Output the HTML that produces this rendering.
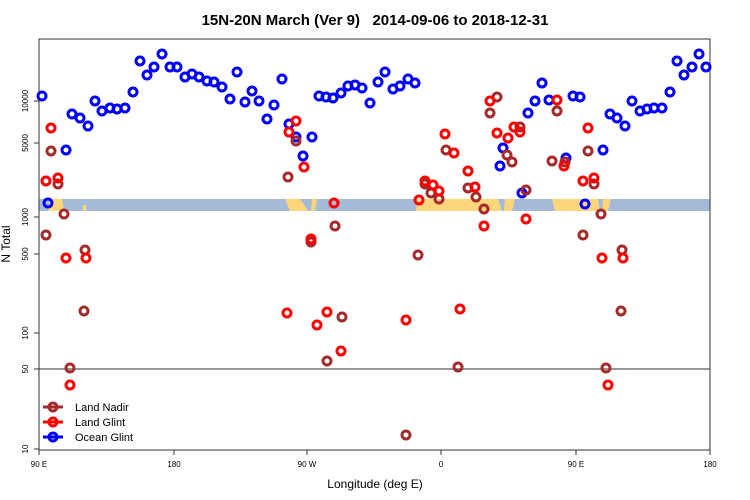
<!DOCTYPE html>
<html><head><style>body{margin:0;background:#fff}svg{display:block}</style></head><body>
<svg width="750" height="500" xmlns="http://www.w3.org/2000/svg" font-family="Liberation Sans, sans-serif">
<text x="375" y="25" text-anchor="middle" font-size="15" font-weight="bold">15N-20N March (Ver 9)&#160;&#160; 2014-09-06 to 2018-12-31</text>
<rect x="39" y="199" width="671" height="12" fill="#a3bbd9"/>
<g fill="#fdd57a">
<path d="M50,199 L62,199 L64,211 L48,211 Z"/><path d="M83,205 l3,0 l0,6 l-3,0z"/>
<path d="M285,199 L300,199 L308,211 L290,211 Z"/><path d="M312,199 l5,0 l-2,12 l-4,0z"/>
<path d="M417,199 L498,199 L502,211 L416,211 Z"/><path d="M505,199 l10,0 l-3,12 l-8,0z"/>
<path d="M552,199 L598,199 L600,211 L555,211 Z"/><path d="M603,199 l8,0 l-3,12 l-6,0z"/>
</g>
<line x1="39" y1="369" x2="710" y2="369" stroke="#777" stroke-width="1.5"/>
<rect x="39" y="39" width="671" height="411" fill="none" stroke="#333" stroke-width="1"/>
<g font-size="8" text-anchor="middle">
<text x="39" y="467">90 E</text><text x="174" y="467">180</text><text x="307" y="467">90 W</text><text x="441" y="467">0</text><text x="576" y="467">90 E</text><text x="710" y="467">180</text>
</g>
<g stroke="#333"><line x1="39" y1="450" x2="39" y2="455"/><line x1="174" y1="450" x2="174" y2="455"/><line x1="307" y1="450" x2="307" y2="455"/><line x1="441" y1="450" x2="441" y2="455"/><line x1="576" y1="450" x2="576" y2="455"/><line x1="710" y1="450" x2="710" y2="455"/>
<line x1="34" y1="101" x2="39" y2="101"/><line x1="34" y1="143" x2="39" y2="143"/><line x1="34" y1="217" x2="39" y2="217"/><line x1="34" y1="254" x2="39" y2="254"/><line x1="34" y1="333" x2="39" y2="333"/><line x1="34" y1="369" x2="39" y2="369"/><line x1="34" y1="449" x2="39" y2="449"/></g>
<g font-size="8" text-anchor="middle">
<text transform="translate(28,101) rotate(-90)">10000</text><text transform="translate(28,143) rotate(-90)">5000</text><text transform="translate(28,217) rotate(-90)">1000</text><text transform="translate(28,254) rotate(-90)">500</text><text transform="translate(28,333) rotate(-90)">100</text><text transform="translate(28,369) rotate(-90)">50</text><text transform="translate(28,449) rotate(-90)">10</text>
</g>
<text x="375" y="488" text-anchor="middle" font-size="12">Longitude (deg E)</text>
<text transform="translate(10,244) rotate(-90)" text-anchor="middle" font-size="12">N Total</text>
<g fill="none" stroke="#0000ff" stroke-width="3">
<circle cx="42" cy="96" r="4"/><circle cx="48" cy="203" r="4"/><circle cx="66" cy="150" r="4"/><circle cx="72" cy="114" r="4"/><circle cx="80" cy="118" r="4"/><circle cx="88" cy="126" r="4"/><circle cx="95" cy="101" r="4"/><circle cx="102" cy="111" r="4"/><circle cx="110" cy="108" r="4"/><circle cx="117" cy="109" r="4"/><circle cx="125" cy="108" r="4"/><circle cx="133" cy="92" r="4"/><circle cx="140" cy="61" r="4"/><circle cx="147" cy="75" r="4"/><circle cx="154" cy="67" r="4"/><circle cx="162" cy="54" r="4"/><circle cx="170" cy="67" r="4"/><circle cx="177" cy="67" r="4"/><circle cx="185" cy="77" r="4"/><circle cx="192" cy="74" r="4"/><circle cx="199" cy="77" r="4"/><circle cx="207" cy="81" r="4"/><circle cx="214" cy="82" r="4"/><circle cx="222" cy="87" r="4"/><circle cx="230" cy="99" r="4"/><circle cx="237" cy="72" r="4"/><circle cx="245" cy="102" r="4"/><circle cx="252" cy="91" r="4"/><circle cx="259" cy="101" r="4"/><circle cx="267" cy="119" r="4"/><circle cx="274" cy="105" r="4"/><circle cx="282" cy="79" r="4"/><circle cx="289" cy="124" r="4"/><circle cx="296" cy="137" r="4"/><circle cx="303" cy="156" r="4"/><circle cx="312" cy="137" r="4"/><circle cx="319" cy="96" r="4"/><circle cx="326" cy="97" r="4"/><circle cx="333" cy="98" r="4"/><circle cx="341" cy="93" r="4"/><circle cx="348" cy="86" r="4"/><circle cx="355" cy="85" r="4"/><circle cx="362" cy="88" r="4"/><circle cx="370" cy="103" r="4"/><circle cx="378" cy="82" r="4"/><circle cx="385" cy="72" r="4"/><circle cx="393" cy="89" r="4"/><circle cx="400" cy="86" r="4"/><circle cx="408" cy="79" r="4"/><circle cx="415" cy="83" r="4"/><circle cx="500" cy="166" r="4"/><circle cx="503" cy="148" r="4"/><circle cx="522" cy="193" r="4"/><circle cx="528" cy="113" r="4"/><circle cx="535" cy="101" r="4"/><circle cx="542" cy="83" r="4"/><circle cx="549" cy="100" r="4"/><circle cx="566" cy="158" r="4"/><circle cx="573" cy="96" r="4"/><circle cx="580" cy="97" r="4"/><circle cx="585" cy="204" r="4"/><circle cx="603" cy="150" r="4"/><circle cx="610" cy="114" r="4"/><circle cx="617" cy="118" r="4"/><circle cx="625" cy="126" r="4"/><circle cx="632" cy="101" r="4"/><circle cx="640" cy="111" r="4"/><circle cx="647" cy="109" r="4"/><circle cx="654" cy="108" r="4"/><circle cx="662" cy="108" r="4"/><circle cx="670" cy="92" r="4"/><circle cx="677" cy="61" r="4"/><circle cx="684" cy="75" r="4"/><circle cx="692" cy="67" r="4"/><circle cx="699" cy="54" r="4"/><circle cx="706" cy="67" r="4"/>
</g>
<g fill="none" stroke="#a52a2a" stroke-width="3">
<circle cx="46" cy="235" r="4"/><circle cx="51" cy="151" r="4"/><circle cx="58" cy="184" r="4"/><circle cx="64" cy="214" r="4"/><circle cx="70" cy="368" r="4"/><circle cx="85" cy="250" r="4"/><circle cx="84" cy="311" r="4"/><circle cx="288" cy="177" r="4"/><circle cx="296" cy="141" r="4"/><circle cx="311" cy="242" r="4"/><circle cx="327" cy="361" r="4"/><circle cx="335" cy="226" r="4"/><circle cx="342" cy="317" r="4"/><circle cx="406" cy="435" r="4"/><circle cx="418" cy="255" r="4"/><circle cx="425" cy="184" r="4"/><circle cx="431" cy="193" r="4"/><circle cx="439" cy="199" r="4"/><circle cx="446" cy="150" r="4"/><circle cx="458" cy="367" r="4"/><circle cx="468" cy="188" r="4"/><circle cx="476" cy="197" r="4"/><circle cx="484" cy="209" r="4"/><circle cx="490" cy="113" r="4"/><circle cx="497" cy="97" r="4"/><circle cx="507" cy="155" r="4"/><circle cx="512" cy="162" r="4"/><circle cx="520" cy="127" r="4"/><circle cx="526" cy="190" r="4"/><circle cx="552" cy="161" r="4"/><circle cx="557" cy="111" r="4"/><circle cx="565" cy="162" r="4"/><circle cx="583" cy="235" r="4"/><circle cx="588" cy="151" r="4"/><circle cx="594" cy="184" r="4"/><circle cx="601" cy="214" r="4"/><circle cx="606" cy="368" r="4"/><circle cx="622" cy="250" r="4"/><circle cx="621" cy="311" r="4"/>
</g>
<g fill="none" stroke="#ff0000" stroke-width="3">
<circle cx="46" cy="181" r="4"/><circle cx="51" cy="128" r="4"/><circle cx="58" cy="178" r="4"/><circle cx="66" cy="258" r="4"/><circle cx="70" cy="385" r="4"/><circle cx="86" cy="258" r="4"/><circle cx="287" cy="313" r="4"/><circle cx="289" cy="132" r="4"/><circle cx="296" cy="121" r="4"/><circle cx="304" cy="167" r="4"/><circle cx="311" cy="239" r="4"/><circle cx="317" cy="325" r="4"/><circle cx="327" cy="312" r="4"/><circle cx="334" cy="203" r="4"/><circle cx="341" cy="351" r="4"/><circle cx="406" cy="320" r="4"/><circle cx="419" cy="200" r="4"/><circle cx="425" cy="181" r="4"/><circle cx="433" cy="185" r="4"/><circle cx="439" cy="191" r="4"/><circle cx="445" cy="134" r="4"/><circle cx="454" cy="153" r="4"/><circle cx="460" cy="309" r="4"/><circle cx="468" cy="171" r="4"/><circle cx="475" cy="187" r="4"/><circle cx="484" cy="226" r="4"/><circle cx="490" cy="101" r="4"/><circle cx="497" cy="133" r="4"/><circle cx="508" cy="138" r="4"/><circle cx="514" cy="127" r="4"/><circle cx="520" cy="132" r="4"/><circle cx="526" cy="219" r="4"/><circle cx="557" cy="100" r="4"/><circle cx="564" cy="166" r="4"/><circle cx="583" cy="181" r="4"/><circle cx="588" cy="128" r="4"/><circle cx="594" cy="178" r="4"/><circle cx="602" cy="258" r="4"/><circle cx="608" cy="385" r="4"/><circle cx="623" cy="258" r="4"/>
</g>
<g stroke-width="3" fill="none">
<line x1="43" y1="407" x2="63" y2="407" stroke="#a52a2a"/><circle cx="53" cy="407" r="4" stroke="#a52a2a"/>
<line x1="43" y1="422" x2="63" y2="422" stroke="#ff0000"/><circle cx="53" cy="422" r="4" stroke="#ff0000"/>
<line x1="43" y1="437" x2="63" y2="437" stroke="#0000ff"/><circle cx="53" cy="437" r="4" stroke="#0000ff"/>
</g>
<g font-size="11"><text x="75" y="411">Land Nadir</text><text x="75" y="426">Land Glint</text><text x="75" y="441">Ocean Glint</text></g>
</svg>
</body></html>
